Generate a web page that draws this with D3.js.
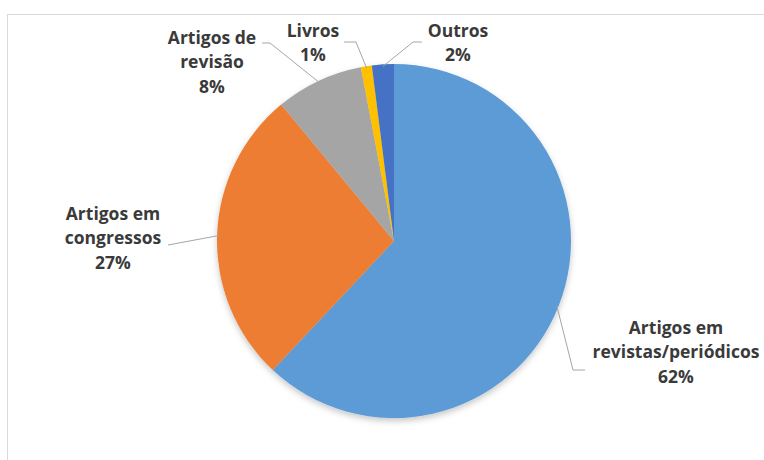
<!DOCTYPE html>
<html>
<head>
<meta charset="utf-8">
<script src="https://cdn.jsdelivr.net/npm/d3@7"></script>
<style>
  html, body { margin: 0; padding: 0; background: #fff; }
  svg { display: block; }
  text { font-family: "Open Sans", Lato, sans-serif; font-weight: 700; fill: #3a3a3a; }
</style>
</head>
<body>
<svg id="chart" width="764" height="460"></svg>
<script>
// Publication types and their share (%)
const categories = ["Artigos em revistas/periódicos", "Artigos em congressos", "Artigos de revisão", "Livros", "Outros"];
const values = [62, 27, 8, 1, 2];
const labelLines = [
  ["Artigos em", "revistas/periódicos"],
  ["Artigos em", "congressos"],
  ["Artigos de", "revisão"],
  ["Livros"],
  ["Outros"]
];
const colors = ["#5B9BD5", "#ED7D31", "#A5A5A5", "#FFC000", "#4472C4"];

// Label placement: text centre, first-line y, and elbow of the leader line
const labelLayout = [
  { x: 676, y: 329, elbow: [[573, 370], [585, 370]] },
  { x: 113, y: 215, elbow: [[168, 245]] },
  { x: 212, y: 39,  elbow: [[270, 43], [262, 43]] },
  { x: 313, y: 32,  elbow: [[356, 42], [344, 42]] },
  { x: 458, y: 32,  elbow: [[413, 42], [422, 42]] }
];

const svg = d3.select("#chart");
const W = 764, H = 460;

// Chart frame
svg.append("rect")
  .attr("x", 7.5).attr("y", 14.5)
  .attr("width", W + 10).attr("height", H + 10)
  .attr("fill", "#fff").attr("stroke", "#d9d9d9").attr("stroke-width", 1);

const defs = svg.append("defs");
const shadow = defs.append("filter").attr("id", "pieShadow")
  .attr("x", "-20%").attr("y", "-20%").attr("width", "140%").attr("height", "140%");
shadow.append("feDropShadow")
  .attr("dx", 0).attr("dy", 3).attr("stdDeviation", 3)
  .attr("flood-color", "#000").attr("flood-opacity", 0.22);

const cx = 394, cy = 241, r = 177;

const data = categories.map((c, i) => ({ name: c, value: values[i], i }));
const pie = d3.pie().value(d => d.value).sort(null);
const arcs = pie(data);
const arc = d3.arc().innerRadius(0).outerRadius(r);
const edgeArc = d3.arc().innerRadius(r - 2).outerRadius(r - 2);

const g = svg.append("g").attr("transform", `translate(${cx},${cy})`);
g.append("g").attr("filter", "url(#pieShadow)")
  .selectAll("path").data(arcs).join("path")
  .attr("d", arc)
  .attr("fill", d => colors[d.data.i]);

// Leader lines from slice edge to label
const line = d3.line();
arcs.forEach((a, k) => {
  const L = labelLayout[k];
  const [ex, ey] = edgeArc.centroid(a);
  const pts = [[cx + ex, cy + ey], ...L.elbow];
  svg.append("path")
    .attr("d", line(pts))
    .attr("fill", "none")
    .attr("stroke", "#a6a6a6")
    .attr("stroke-width", 1);
});

// Labels: category name lines then percentage
const fmt = d3.format(".0f");
arcs.forEach((a, k) => {
  const L = labelLayout[k];
  const lines = [...labelLines[k], fmt(a.data.value) + "%"];
  const t = svg.append("text")
    .attr("text-anchor", "middle")
    .attr("font-size", 17.5);
  lines.forEach((s, j) => {
    t.append("tspan")
      .attr("x", L.x)
      .attr("y", L.y + j * 24.7)
      .attr("dominant-baseline", "middle")
      .text(s);
  });
});
</script>
</body>
</html>
